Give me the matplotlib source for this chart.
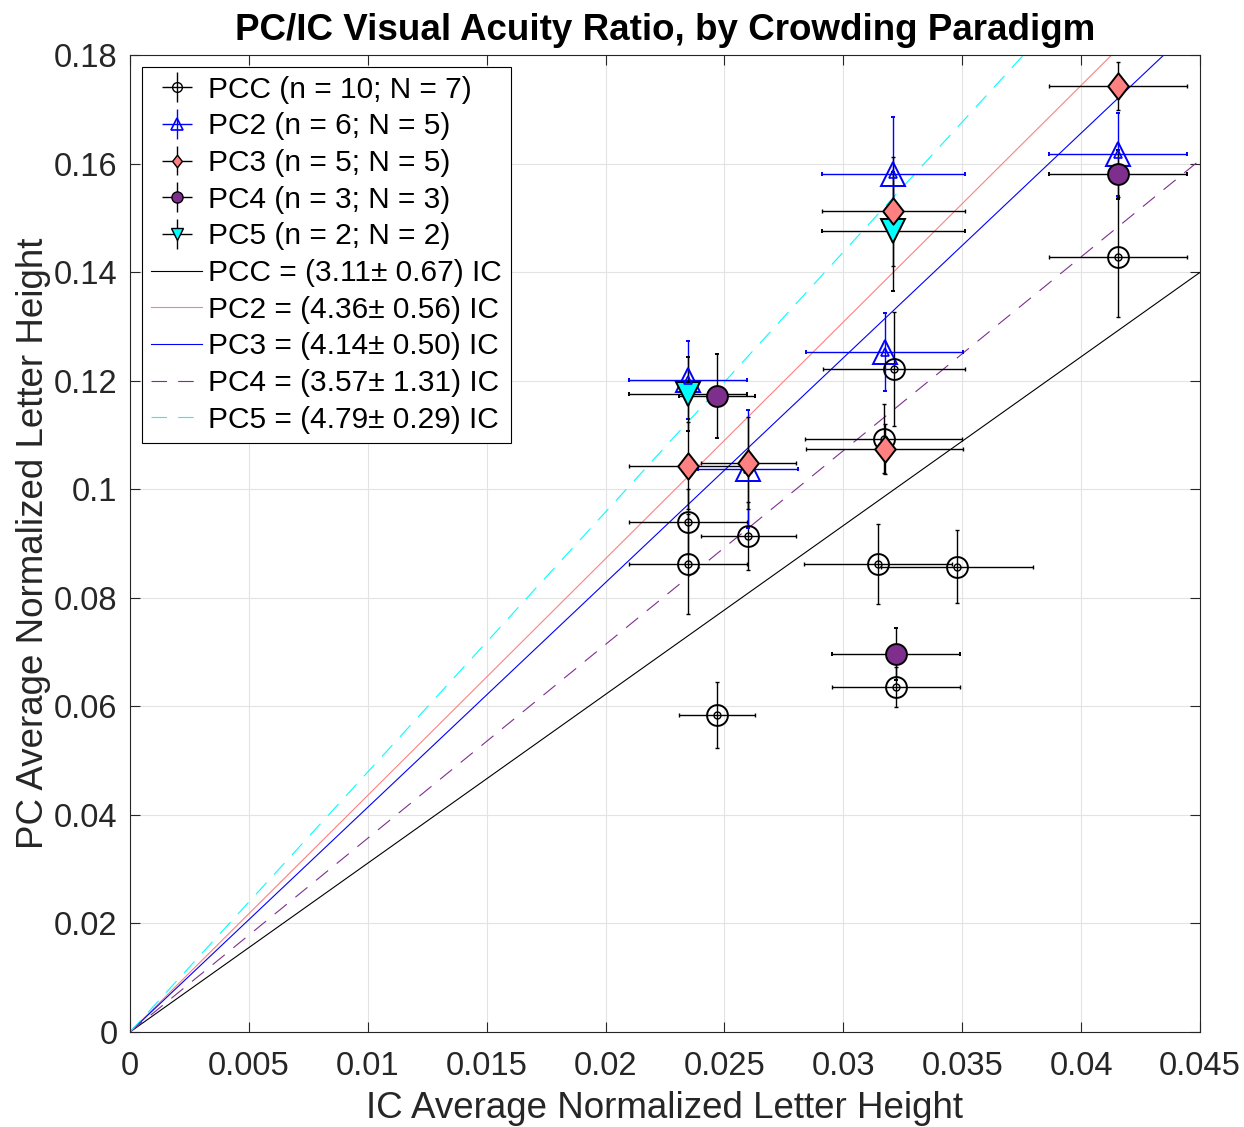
import matplotlib
matplotlib.use("Agg")
import matplotlib.pyplot as plt
import numpy as np
from matplotlib.path import Path

plt.rcParams['font.family'] = ['Liberation Sans', 'DejaVu Sans']

# PCC (crowding control)
pcc_x = [0.04155, 0.03213, 0.0317, 0.02347, 0.02347, 0.0260, 0.02469, 0.03146, 0.03478, 0.03221]
pcc_y = [0.1428, 0.1221, 0.1093, 0.0940, 0.0862, 0.0914, 0.0584, 0.0862, 0.0857, 0.0636]
pcc_xerr = [0.0029, 0.0030, 0.0033, 0.0025, 0.0025, 0.0020, 0.0016, 0.0031, 0.0032, 0.0027]
pcc_yerr = [0.0110, 0.0105, 0.0064, 0.0060, 0.0092, 0.0063, 0.0060, 0.0073, 0.0067, 0.0037]

# PC2
pc2_x = [0.02347, 0.0260, 0.0321, 0.03175, 0.04155]
pc2_y = [0.1201, 0.1037, 0.1580, 0.1253, 0.1617]
pc2_xerr = [0.0025, 0.0021, 0.0030, 0.0033, 0.0029]
pc2_yerr = [0.0072, 0.0109, 0.0105, 0.0072, 0.0076]

# PC3
pc3_x = [0.02347, 0.0260, 0.0321, 0.03175, 0.04155]
pc3_y = [0.1043, 0.1048, 0.1512, 0.1074, 0.1743]
pc3_xerr = [0.0025, 0.0020, 0.0030, 0.0033, 0.0029]
pc3_yerr = [0.0080, 0.0085, 0.0100, 0.0046, 0.0044]

# PC4
pc4_x = [0.02469, 0.03221, 0.04155]
pc4_y = [0.1172, 0.0696, 0.1580]
pc4_xerr = [0.0016, 0.0027, 0.0029]
pc4_yerr = [0.0077, 0.0048, 0.0045]

# PC5
pc5_x = [0.02347, 0.0321]
pc5_y = [0.1176, 0.1475]
pc5_xerr = [0.0025, 0.0030]
pc5_yerr = [0.0068, 0.0109]

# group labels and fitted PC/IC ratios
group_labels = ["PCC (n = 10; N = 7)", "PC2 (n = 6; N = 5)", "PC3 (n = 5; N = 5)",
                "PC4 (n = 3; N = 3)", "PC5 (n = 2; N = 2)"]
fit_names = ["PCC", "PC2", "PC3", "PC4", "PC5"]
fit_slope = [3.11, 4.36, 4.14, 3.57, 4.79]
fit_err = [0.67, 0.56, 0.50, 1.31, 0.29]

xticks = [0, 0.005, 0.01, 0.015, 0.02, 0.025, 0.03, 0.035, 0.04, 0.045]
yticks = [0, 0.02, 0.04, 0.06, 0.08, 0.1, 0.12, 0.14, 0.16, 0.18]

purple = '#7E2F8E'
pink = '#FF8080'

diamond = Path([(0, 1), (0.78, 0), (0, -1), (-0.78, 0), (0, 1)],
               [Path.MOVETO, Path.LINETO, Path.LINETO, Path.LINETO, Path.CLOSEPOLY])

fig = plt.figure(figsize=(12.44, 11.27), dpi=100)
ax = fig.add_axes([0.1045, 0.0843, 0.8601, 0.8669])

# fitted lines through the origin
xx = np.array([0, 0.045])
fit_colors = ['black', pink, 'blue', purple, 'cyan']
fit_styles = ['-', '-', '-', (0, (14, 10)), (0, (14, 10))]
line_handles = []
for name, m, e, c, ls in zip(fit_names, fit_slope, fit_err, fit_colors, fit_styles):
    h, = ax.plot(xx, m * xx, color=c, ls=ls, lw=0.8,
                 label="%s = (%.2f± %.2f) IC" % (name, m, e), zorder=2)
    line_handles.append(h)

ekw = dict(capsize=1.6, capthick=1.0, elinewidth=1.0, zorder=3)

# big rings around the PCC points
ax.plot(pcc_x, pcc_y, 'o', ms=15, mfc='none', mec='black', mew=1.4, zorder=4)
h0 = ax.errorbar(pcc_x, pcc_y, xerr=pcc_xerr, yerr=pcc_yerr, fmt='o', ms=5,
                 mfc='none', mec='black', mew=1.0, ecolor='black', **ekw)
h1 = ax.errorbar(pc2_x, pc2_y, xerr=pc2_xerr, yerr=pc2_yerr, fmt='^', ms=17,
                 mfc='none', mec='blue', mew=1.4, ecolor='blue', **ekw)
ax.plot(pc2_x, pc2_y, '^', ms=6, mfc='none', mec='blue', mew=1.2, zorder=4)
h2 = ax.errorbar(pc3_x, pc3_y, xerr=pc3_xerr, yerr=pc3_yerr, fmt='none',
                 ecolor='black', **ekw)
ax.plot(pc3_x, pc3_y, marker=diamond, ls='none', ms=19, mfc=pink, mec='black',
        mew=1.4, zorder=4)
h3 = ax.errorbar(pc4_x, pc4_y, xerr=pc4_xerr, yerr=pc4_yerr, fmt='o', ms=15,
                 mfc=purple, mec='black', mew=1.4, ecolor='black', **ekw)
h4 = ax.errorbar(pc5_x, pc5_y, xerr=pc5_xerr, yerr=pc5_yerr, fmt='v', ms=17,
                 mfc='cyan', mec='black', mew=1.4, ecolor='black', **ekw)

# legend handles with small markers
lh = []
lh.append(ax.errorbar([], [], xerr=[], yerr=[], fmt='o', ms=7, mfc='none', mec='black',
                      mew=1.0, ecolor='black', capsize=2, elinewidth=1.0))
lh.append(ax.errorbar([], [], xerr=[], yerr=[], fmt='^', ms=8, mfc='none', mec='blue',
                      mew=1.2, ecolor='blue', capsize=2, elinewidth=1.0))
lh.append(ax.errorbar([], [], xerr=[], yerr=[], marker=diamond, ls='none', ms=9, mfc=pink,
                      mec='black', mew=1.0, ecolor='black', capsize=2, elinewidth=1.0))
lh.append(ax.errorbar([], [], xerr=[], yerr=[], fmt='o', ms=8, mfc=purple, mec='black',
                      mew=1.0, ecolor='black', capsize=2, elinewidth=1.0))
lh.append(ax.errorbar([], [], xerr=[], yerr=[], fmt='v', ms=8, mfc='cyan', mec='black',
                      mew=1.0, ecolor='black', capsize=2, elinewidth=1.0))

leg = ax.legend(lh + line_handles, group_labels + [h.get_label() for h in line_handles],
                loc='upper left', bbox_to_anchor=(0.0115, 0.988), fontsize=21.5,
                frameon=True, fancybox=False, edgecolor='black', framealpha=1,
                borderpad=0.3, labelspacing=0.29, handlelength=1.7, handletextpad=0.2,
                borderaxespad=0)
leg.get_frame().set_linewidth(0.8)

ax.set_xlim(0, 0.045)
ax.set_ylim(0, 0.18)
ax.set_xticks(xticks)
ax.set_yticks(yticks)
ax.set_xticklabels(['%g' % t for t in xticks])
ax.set_yticklabels(['%g' % t for t in yticks])
ax.tick_params(direction='in', top=True, right=True, labelsize=23.5, length=7,
               width=0.8, colors='#262626', labelcolor='#262626', pad=9)
ax.tick_params(axis='x', pad=14)
ax.grid(True, color='#e3e3e3', lw=0.8)
ax.set_axisbelow(True)
for s in ax.spines.values():
    s.set_color('#262626')
    s.set_linewidth(0.8)

ax.set_xlabel('IC Average Normalized Letter Height', fontsize=26.5, color='#262626', labelpad=6)
ax.set_ylabel('PC Average Normalized Letter Height', fontsize=26.5, color='#262626', labelpad=2)
ax.set_title('PC/IC Visual Acuity Ratio, by Crowding Paradigm', fontsize=26.5,
             fontweight='bold', pad=11)

fig.savefig('out.png', dpi=100)
